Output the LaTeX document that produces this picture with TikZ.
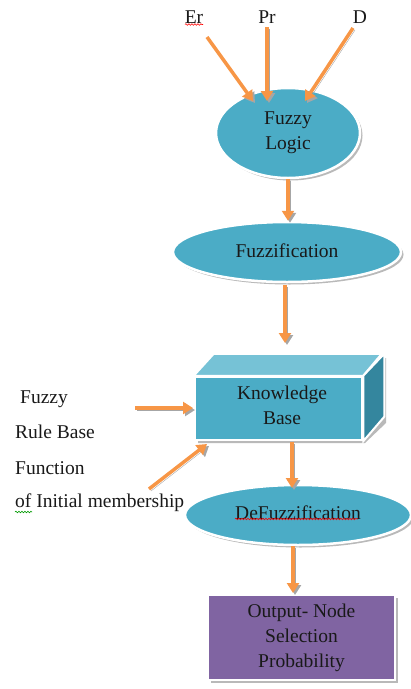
\documentclass[tikz,border=0pt]{standalone}
\usepackage{fontspec}
\setmainfont{Liberation Serif}
\usetikzlibrary{shapes.geometric,arrows.meta,shadows,decorations.pathmorphing}
\definecolor{aqua}{RGB}{75,172,198}
\definecolor{aquatop}{RGB}{118,194,214}
\definecolor{aquaside}{RGB}{52,134,158}
\definecolor{orng}{RGB}{247,150,70}
\definecolor{purp}{RGB}{128,100,162}
\definecolor{txt}{RGB}{25,25,25}
\begin{document}
\begin{tikzpicture}[x=1pt,y=-1pt,
  font=\fontsize{19.5}{25}\selectfont,
  arr/.style={draw=orng, line width=3.5pt, -{Triangle[length=10pt,width=12pt]},
    preaction={draw=gray!70, -{Triangle[length=10pt,width=12pt]}, transform canvas={shift={(2pt,-2pt)}}}},
  ell/.style={ellipse, fill=aqua, draw=white, line width=2.5pt, text=txt, align=center, inner sep=0pt,
    drop shadow={shadow xshift=2.5pt, shadow yshift=-2.5pt, fill=gray!55, opacity=1}},
  boxnode/.style={rectangle, draw=white, line width=2.5pt, text=txt, align=center, inner sep=0pt,
    drop shadow={shadow xshift=2.5pt, shadow yshift=-2.5pt, fill=gray!55, opacity=1}},
  lbl/.style={text=txt, inner sep=0pt},
  squig/.style={line width=0.6pt, decorate, decoration={snake, amplitude=0.8pt, segment length=3pt}}
]
\useasboundingbox (0,0) rectangle (411,689);

% input labels
\node[lbl] (er) at (194,17) {Er};
\node[lbl] (pr) at (267,17) {Pr};
\node[lbl] (d) at (360,17) {D};
\draw[squig, red] (185,24.5) -- (203,24.5);

% fuzzy logic
\node[ell, minimum width=144pt, minimum height=90pt] (fl) at (288,133) {Fuzzy\\Logic};

% fuzzification
\node[ell, minimum width=228pt, minimum height=60pt] (fz) at (287,252) {\raisebox{3pt}{Fuzzification}};

% knowledge base (3D box)
\fill[gray!55] (198,380) -- (218,358) -- (386,358) -- (386,423) -- (365,443) -- (198,443) -- cycle;
\node[boxnode, fill=aqua, minimum width=167pt, minimum height=63pt] (kb) at (278.5,408.5) {};
\filldraw[fill=aquatop, draw=white, line width=2pt] (kb.north west) -- ++(20,-22) -- ++(168,0) -- (kb.north east) -- cycle;
\filldraw[fill=aquaside, draw=white, line width=2pt] (kb.north east) -- ++(21,-22) -- ++(0,63) -- (kb.south east) -- cycle;
\node[lbl, align=center] (kbt) at (282,405.5) {Knowledge\\Base};

% side labels
\node[lbl, anchor=west] (l1) at (20,399) {Fuzzy};
\node[lbl, anchor=west] (l2) at (15,432) {Rule Base};
\node[lbl, anchor=west] (l3) at (15,468) {Function};
\node[lbl, anchor=west] (l4) at (15,503) {of Initial membership};
\draw[squig, green!60!black] (15,512) -- (32,512);

% defuzzification
\node[ell, minimum width=226pt, minimum height=60pt] (dz) at (298,515) {\raisebox{5pt}{DeFuzzification}};
\draw[squig, red] (235,519) -- (358,519);

% output
\node[boxnode, fill=purp, minimum width=187pt, minimum height=85pt] (out) at (301.5,637.5) {Output- Node\\Selection\\Probability};

% arrow end points
\coordinate (erS) at (207,37);
\coordinate (erE) at (253,101);
\coordinate (prS) at (267,27);
\coordinate (prE) at (267,101);
\coordinate (dS) at (353,28);
\coordinate (dE) at (305,101);
\coordinate (fzS) at (285,285);
\coordinate (kbE) at (285,343);
\coordinate (kbS) at (292,442);
\coordinate (dzE) at (292,488);
\coordinate (dzS) at (293,546);
\coordinate (outE) at (293,593);
\coordinate (l1S) at (135,408);
\coordinate (l1E) at (193,408);
\coordinate (l4S) at (149,489);
\coordinate (l4E) at (207,444);

\draw[arr] (erS) -- (erE);
\draw[arr] (prS) -- (prE);
\draw[arr] (dS) -- (dE);
\draw[arr] (fl.south) -- (fl.south |- fz.north);
\draw[arr] (fzS) -- (kbE);
\draw[arr] (kbS) -- (dzE);
\draw[arr] (dzS) -- (outE);
\draw[arr] (l1S) -- (l1E);
\draw[arr] (l4S) -- (l4E);
\end{tikzpicture}
\end{document}
